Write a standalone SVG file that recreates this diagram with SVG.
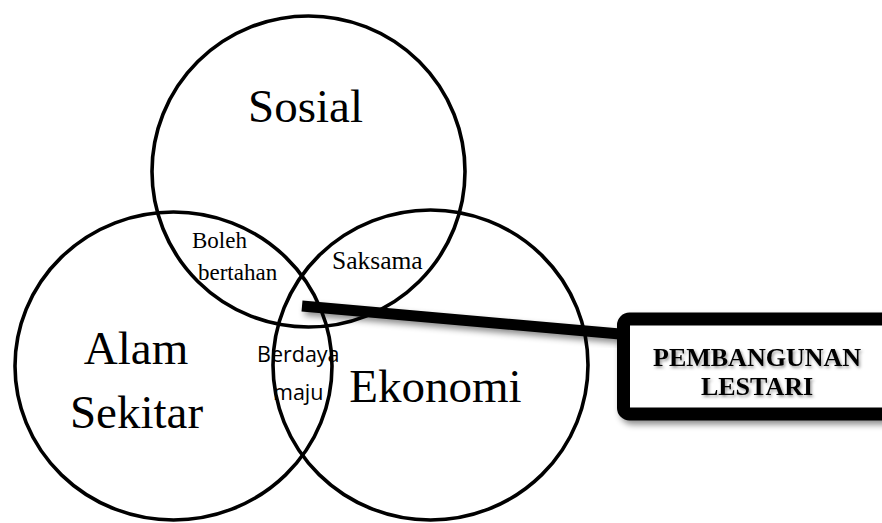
<svg xmlns="http://www.w3.org/2000/svg" width="882" height="523" viewBox="0 0 882 523">
  <defs>
    <filter id="shadow" x="-20%" y="-50%" width="140%" height="200%">
      <feDropShadow dx="3" dy="4" stdDeviation="3" flood-color="#000" flood-opacity="0.45"/>
    </filter>
    <filter id="tshadow" x="-10%" y="-40%" width="120%" height="180%">
      <feDropShadow dx="1.5" dy="2" stdDeviation="1.5" flood-color="#000" flood-opacity="0.4"/>
    </filter>
  </defs>
  <style>
    .ring { fill: none; stroke: #000; stroke-width: 3.6; }
    .big { font-family: "Liberation Serif", "Times New Roman", serif; font-size: 47px; fill: #000; text-anchor: middle; }
    .small { font-family: "Liberation Serif", "Times New Roman", serif; font-size: 23px; fill: #000; }
    .sans { font-family: "Open Sans", "DejaVu Sans", sans-serif; font-size: 21.5px; fill: #000; }
    .boxtxt { font-family: "Liberation Serif", "Times New Roman", serif; font-size: 26px; font-weight: bold; fill: #000; text-anchor: middle; }
  </style>
  <rect width="882" height="523" fill="#fff"/>

  <g id="sosial">
    <ellipse class="ring" cx="308.5" cy="171.5" rx="156.5" ry="155.5"/>
    <text class="big" x="305.5" y="122">Sosial</text>
  </g>
  <g id="alam-sekitar">
    <ellipse class="ring" cx="173.5" cy="366" rx="158.5" ry="154"/>
    <text class="big" x="136" y="364">Alam</text>
    <text class="big" x="136.5" y="428">Sekitar</text>
  </g>
  <g id="ekonomi">
    <ellipse class="ring" cx="430.5" cy="365" rx="157.5" ry="155"/>
    <text class="big" x="435.5" y="402">Ekonomi</text>
  </g>

  <g id="overlap-labels">
    <text class="small" x="192" y="248">Boleh</text>
    <text class="small" x="198" y="280">bertahan</text>
    <text class="small" x="332" y="269" style="font-size:25.5px">Saksama</text>
    <text class="sans" x="257" y="362">Berdaya</text>
    <text class="sans" x="273" y="400">maju</text>
  </g>

  <g id="connectors">
    <line x1="302" y1="306" x2="620" y2="334" stroke="#000" stroke-width="11" filter="url(#shadow)"/>
  </g>

  <g id="pembangunan-lestari">
    <rect x="623.5" y="319" width="280" height="95" rx="6" fill="#fff" stroke="#000" stroke-width="13" filter="url(#shadow)"/>
    <g filter="url(#tshadow)">
      <text class="boxtxt" x="757" y="366">PEMBANGUNAN</text>
      <text class="boxtxt" x="757" y="395">LESTARI</text>
    </g>
  </g>
</svg>
